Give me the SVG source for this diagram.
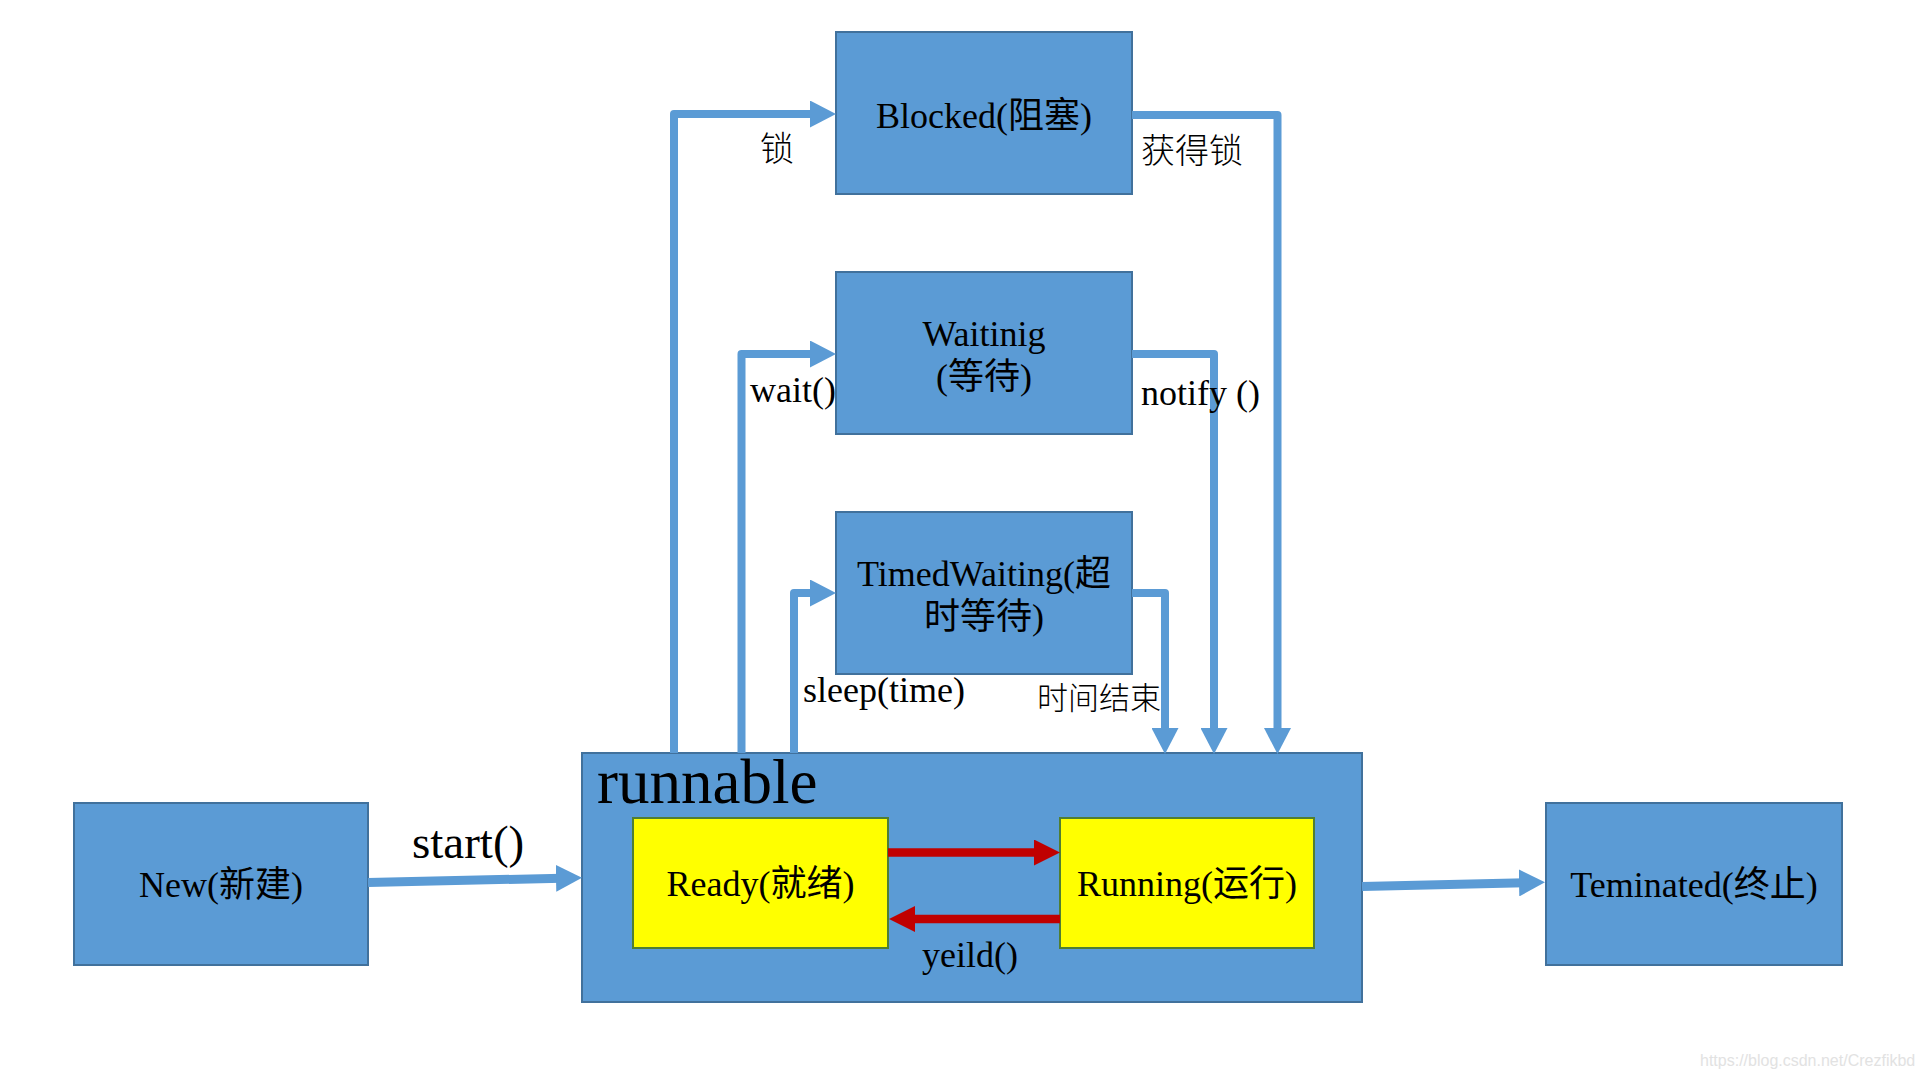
<svg xmlns="http://www.w3.org/2000/svg" width="1920" height="1080" viewBox="0 0 1920 1080">
<style>
.box{fill:#5B9BD5;stroke:#41719C;stroke-width:2}
.ybox{fill:#FFFF00;stroke:#507E32;stroke-width:2}
.t{font-family:"Liberation Serif","Noto Sans CJK SC",serif;font-size:36px;fill:#000;text-anchor:middle}
.lbl{font-family:"Liberation Serif","Noto Sans CJK SC",serif;font-size:36px;fill:#000}
.cjk{font-family:"Noto Sans CJK SC",sans-serif;font-weight:300;fill:#000}
.con{fill:none;stroke:#5B9BD5;stroke-width:8;stroke-linejoin:round}
.red{fill:none;stroke:#C00000;stroke-width:8.5}
.wm{font-family:"Liberation Sans",Arial,sans-serif;font-size:16px;fill:#E2E2E2}
</style>
<defs>
<marker id="ab" viewBox="0 0 26 27" refX="6" refY="13.5" markerWidth="26" markerHeight="27" markerUnits="userSpaceOnUse" orient="auto">
<path d="M0,0 L26,13.5 L0,27 Z" fill="#5B9BD5"/>
</marker>
<marker id="ar" viewBox="0 0 26 26" refX="6" refY="13" markerWidth="26" markerHeight="26" markerUnits="userSpaceOnUse" orient="auto">
<path d="M0,0 L26,13 L0,26 Z" fill="#C00000"/>
</marker>
</defs>
<rect width="1920" height="1080" fill="#FFFFFF"/>

<g id="blocked">
<rect class="box" x="836" y="32" width="296" height="162"/>
<text class="t" x="984" y="128">Blocked(阻塞)</text>
</g>
<g id="waiting">
<rect class="box" x="836" y="272" width="296" height="162"/>
<text class="t" x="984" y="346">Waitinig</text>
<text class="t" x="984" y="389">(等待)</text>
</g>
<g id="timedwaiting">
<rect class="box" x="836" y="512" width="296" height="162"/>
<text class="t" x="984" y="586">TimedWaiting(超</text>
<text class="t" x="984" y="629">时等待)</text>
</g>
<g id="runnable">
<rect class="box" x="582" y="753" width="780" height="249"/>
<text class="lbl" x="597" y="803" style="font-size:63px">runnable</text>
</g>
<g id="ready">
<rect class="ybox" x="633" y="818" width="255" height="130"/>
<text class="t" x="760.5" y="896">Ready(就绪)</text>
</g>
<g id="running">
<rect class="ybox" x="1060" y="818" width="254" height="130"/>
<text class="t" x="1187" y="896">Running(运行)</text>
</g>
<g id="new">
<rect class="box" x="74" y="803" width="294" height="162"/>
<text class="t" x="221" y="897">New(新建)</text>
</g>
<g id="terminated">
<rect class="box" x="1546" y="803" width="296" height="162"/>
<text class="t" x="1694" y="897">Teminated(终止)</text>
</g>

<g id="connectors">
<path class="con" d="M674,753 V114 H816" marker-end="url(#ab)"/>
<path class="con" d="M741.5,753 V354 H816" marker-end="url(#ab)"/>
<path class="con" d="M794,753 V593 H816" marker-end="url(#ab)"/>
<path class="con" d="M1132,115 H1277.5 V734" marker-end="url(#ab)"/>
<path class="con" d="M1132,354 H1214 V734" marker-end="url(#ab)"/>
<path class="con" d="M1132,593 H1165 V734" marker-end="url(#ab)"/>
<path class="con" d="M368,882.5 L562,878.2" style="stroke-width:9" marker-end="url(#ab)"/>
<path class="con" d="M1362,886.5 L1525,882.8" style="stroke-width:9" marker-end="url(#ab)"/>
<path class="red" d="M888,852.5 H1040" marker-end="url(#ar)"/>
<path class="red" d="M1060,919 H909" marker-end="url(#ar)"/>
</g>

<g id="labels">
<text class="cjk" x="760" y="161" style="font-size:34px">锁</text>
<text class="cjk" x="1141" y="163" style="font-size:34px">获得锁</text>
<text class="lbl" x="750" y="402">wait()</text>
<text class="lbl" x="1141" y="405">notify ()</text>
<text class="lbl" x="803" y="702">sleep(time)</text>
<text class="cjk" x="1037" y="709" style="font-size:31px">时间结束</text>
<text class="lbl" x="412" y="858" style="font-size:47px">start()</text>
<text class="t" x="970" y="967">yeild()</text>
</g>
<text class="wm" x="1700" y="1066">https://blog.csdn.net/Crezfikbd</text>
</svg>
